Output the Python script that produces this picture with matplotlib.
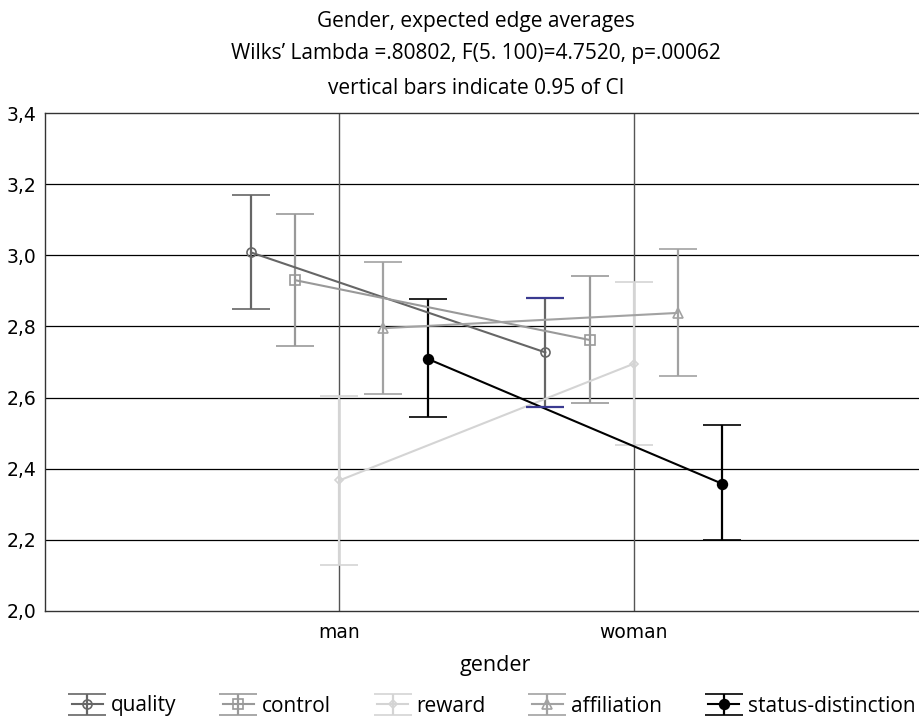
import matplotlib.pyplot as plt
import numpy as np

# ==========================
# data
# ==========================
genders = ["man", "woman"]
series = ["quality", "control", "reward", "affiliation", "status-distinction"]

quality_mean = [3.008, 2.727]
quality_lo = [2.849, 2.574]
quality_hi = [3.170, 2.880]

control_mean = [2.930, 2.762]
control_lo = [2.746, 2.585]
control_hi = [3.116, 2.941]

reward_mean = [2.367, 2.695]
reward_lo = [2.128, 2.466]
reward_hi = [2.605, 2.926]

affiliation_mean = [2.795, 2.838]
affiliation_lo = [2.611, 2.662]
affiliation_hi = [2.980, 3.017]

status_mean = [2.709, 2.358]
status_lo = [2.545, 2.200]
status_hi = [2.877, 2.523]

yticks = [2.0, 2.2, 2.4, 2.6, 2.8, 3.0, 3.2, 3.4]
ytick_labels = ["2,0", "2,2", "2,4", "2,6", "2,8", "3,0", "3,2", "3,4"]

# ==========================
# styles
# ==========================
offsets = [-0.30, -0.15, 0.0, 0.15, 0.30]
colors = ["#666666", "#999999", "#d4d4d4", "#a2a2a2", "#000000"]
markers = ["o", "s", "D", "^", "o"]
msizes = [6.5, 6.5, 4, 6.5, 7]
faces = ["none", "none", "none", "none", "#000000"]

TEXT_FONT = ["Open Sans", "DejaVu Sans"]

fig = plt.figure(figsize=(9.19, 7.2), dpi=100)
ax = fig.add_axes([45 / 919, 1 - 611 / 720, 883 / 919, 498 / 720])

x = np.arange(len(genders))
all_data = [
    (quality_mean, quality_lo, quality_hi),
    (control_mean, control_lo, control_hi),
    (reward_mean, reward_lo, reward_hi),
    (affiliation_mean, affiliation_lo, affiliation_hi),
    (status_mean, status_lo, status_hi),
]

for i, (name, (m, lo, hi)) in enumerate(zip(series, all_data)):
    m = np.array(m)
    err = [m - np.array(lo), np.array(hi) - m]
    ax.errorbar(
        x + offsets[i], m, yerr=err,
        color=colors[i], ecolor=colors[i], lw=1.5, elinewidth=1.6,
        capsize=14, capthick=1.6,
        marker=markers[i], markersize=msizes[i], markerfacecolor=faces[i],
        markeredgecolor=colors[i], markeredgewidth=1.2,
        label=name, zorder=3,
    )

# quality caps at "woman" are drawn in navy in the original
ax.plot([x[1] + offsets[0]] * 2, [quality_lo[1], quality_hi[1]], ls="none",
        marker="_", markersize=28, mew=1.6, color="#3a3a90", zorder=4)

ax.set_xlim(-1, 2)
ax.set_ylim(2.0, 3.4)
ax.set_yticks(yticks)
ax.set_yticklabels(ytick_labels, fontsize=13.5, family="DejaVu Sans")
ax.set_xticks(x)
ax.set_xticklabels(genders, fontsize=13.5, family="DejaVu Sans")
ax.tick_params(length=0, pad=6)
ax.tick_params(axis="x", pad=9)

for yv in yticks[1:-1]:
    ax.axhline(yv, color="#000000", lw=0.9, zorder=1)
for xv in x:
    ax.axvline(xv, color="#555555", lw=1.0, zorder=1)

for side in ["left", "top", "bottom"]:
    ax.spines[side].set_linewidth(1.0)
    ax.spines[side].set_color("#333333")
ax.spines["right"].set_visible(False)

fig.text(476 / 919, 1 - 21 / 720, "Gender, expected edge averages",
         ha="center", va="center", fontsize=15, family=TEXT_FONT)
fig.text(476 / 919, 1 - 54 / 720,
         "Wilks\u2019 Lambda =.80802, F(5. 100)=4.7520, p=.00062",
         ha="center", va="center", fontsize=15, family=TEXT_FONT)
fig.text(476 / 919, 1 - 88 / 720, "vertical bars indicate 0.95 of CI",
         ha="center", va="center", fontsize=15, family=TEXT_FONT)
fig.text(495 / 919, 1 - 665 / 720, "gender",
         ha="center", va="center", fontsize=15.5, family=TEXT_FONT)

fig.legend(loc="center left", bbox_to_anchor=(53 / 919, 1 - 706 / 720), ncol=5,
           frameon=False, prop={"family": TEXT_FONT, "size": 15},
           handlelength=1.5, columnspacing=2.2, handletextpad=0.4)

fig.savefig("out.png", dpi=100)
